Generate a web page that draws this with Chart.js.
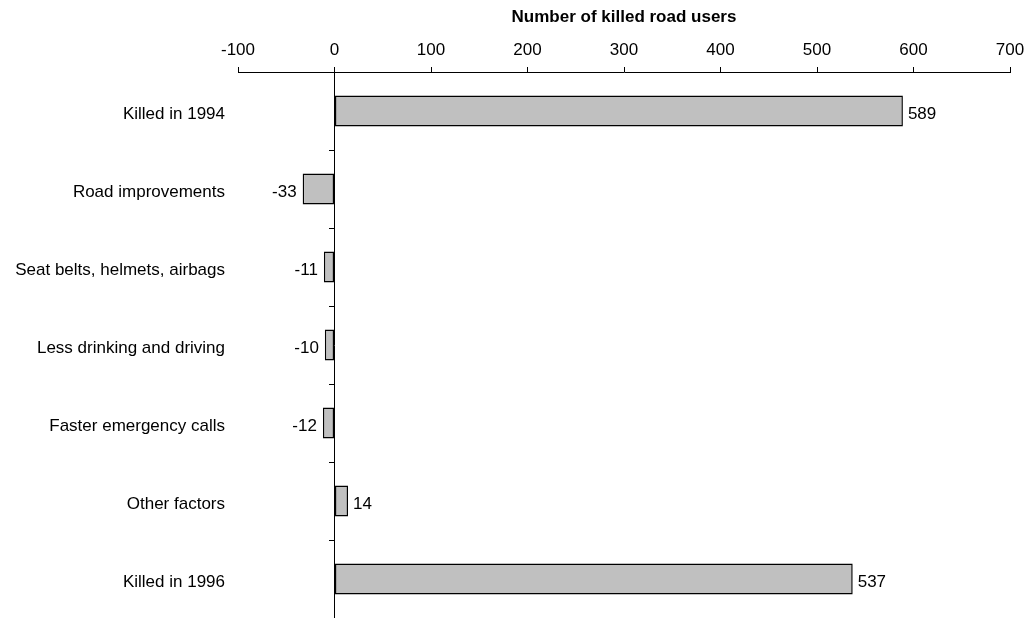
<!DOCTYPE html>
<html>
<head>
<meta charset="utf-8">
<script src="https://cdn.jsdelivr.net/npm/chart.js@4/dist/chart.umd.min.js"></script>
<style>
  html, body { margin: 0; padding: 0; background: #fff; }
  #wrap { width: 1027px; height: 618px; }
</style>
</head>
<body>
<div id="wrap"><canvas id="c" width="1027" height="618"></canvas></div>
<script>
// Change in the number of killed road users, 1994 to 1996, by contributing factor
const categories = [
  'Killed in 1994',
  'Road improvements',
  'Seat belts, helmets, airbags',
  'Less drinking and driving',
  'Faster emergency calls',
  'Other factors',
  'Killed in 1996'
];
const killed = [589, -33, -11, -10, -12, 14, 537];
const xTicks = [-100, 0, 100, 200, 300, 400, 500, 600, 700];
const axisTitle = 'Number of killed road users';

const FONT = '"Liberation Sans", Arial, sans-serif';

// Writes each bar's value just beyond its end
const valueLabels = {
  id: 'valueLabels',
  afterDatasetsDraw(chart) {
    const ctx = chart.ctx;
    const meta = chart.getDatasetMeta(0);
    ctx.save();
    ctx.font = '17px ' + FONT;
    ctx.fillStyle = '#000';
    ctx.textBaseline = 'middle';
    meta.data.forEach((bar, i) => {
      const v = killed[i];
      if (v >= 0) {
        ctx.textAlign = 'left';
        ctx.fillText(String(v), bar.x + 5, bar.y + 3);
      } else {
        ctx.textAlign = 'right';
        ctx.fillText(String(v), bar.x - 6, bar.y + 3);
      }
    });
    ctx.restore();
  }
};

new Chart(document.getElementById('c'), {
  type: 'bar',
  data: {
    labels: categories,
    datasets: [{
      data: killed,
      backgroundColor: '#c0c0c0',
      borderColor: '#000',
      borderWidth: 1.5,
      borderSkipped: false,
      categoryPercentage: 1,
      barPercentage: 0.4
    }]
  },
  options: {
    indexAxis: 'y',
    responsive: false,
    animation: false,
    devicePixelRatio: 1,
    layout: { padding: { left: 0, right: 17, top: 0, bottom: 0 } },
    plugins: {
      legend: { display: false },
      tooltip: { enabled: false }
    },
    scales: {
      x: {
        position: 'top',
        min: -100,
        max: 700,
        afterBuildTicks(scale) { scale.ticks = xTicks.map(v => ({ value: v })); },
        afterFit(scale) {
          scale.height = 72;
          scale.paddingLeft = 0;
          scale.paddingRight = 0;
        },
        grid: { display: true, drawOnChartArea: false, drawTicks: true, tickLength: 5, color: '#000' },
        border: { display: true, color: '#000', width: 1 },
        ticks: { color: '#000', font: { family: FONT, size: 17 }, padding: 6, maxRotation: 0 },
        title: {
          display: true,
          text: axisTitle,
          color: '#000',
          font: { family: FONT, size: 17, weight: 'bold' },
          padding: { top: 7, bottom: 0 }
        }
      },
      y: {
        position: 'left',
        afterFit(scale) {
          scale.width = 238;
          scale.paddingTop = 0;
          scale.paddingBottom = 0;
        },
        grid: { display: false, drawTicks: false },
        border: { display: false },
        ticks: { color: '#000', font: { family: FONT, size: 17 }, padding: 13, labelOffset: 3 }
      },
      // vertical zero line with tick marks between the categories
      yz: {
        type: 'category',
        position: { x: 0 },
        offset: true,
        afterFit(scale) {
          scale.paddingTop = 0;
          scale.paddingBottom = 0;
        },
        grid: { display: true, offset: true, drawOnChartArea: false, drawTicks: true, tickLength: 5, color: '#000' },
        border: { display: true, color: '#000', width: 1 },
        ticks: { display: false }
      }
    }
  },
  plugins: [valueLabels]
});
</script>
</body>
</html>
